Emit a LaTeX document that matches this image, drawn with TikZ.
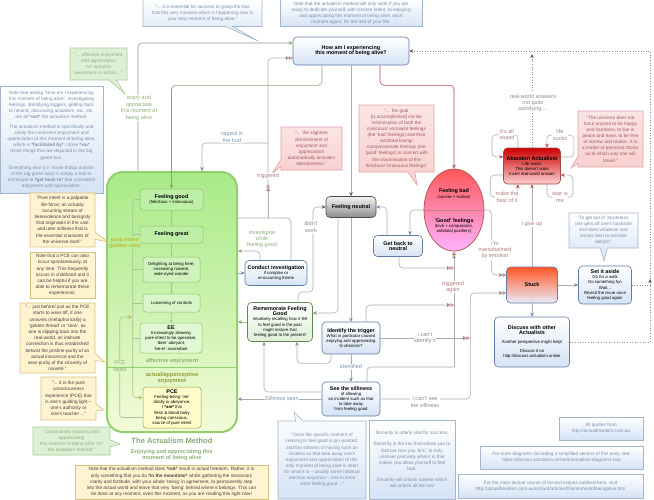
\documentclass[tikz,border=0pt]{standalone}
\usepackage{fontspec}
\setmainfont{Liberation Sans}
\usetikzlibrary{arrows.meta, shapes.geometric, shapes.callouts, calc}

\definecolor{notebd}{HTML}{A2B6CE}
\definecolor{notebl}{HTML}{D5E3F5}
\definecolor{notetx}{HTML}{7C8EA8}
\definecolor{nodebd}{HTML}{5E7BA3}
\definecolor{redbd}{HTML}{E3A2A2}
\definecolor{redfl}{HTML}{F8CFCF}
\definecolor{redtx}{HTML}{A35B5B}
\definecolor{darkred}{HTML}{B0504C}
\definecolor{yelbd}{HTML}{D8C17C}
\definecolor{yelfl}{HTML}{FFF3D0}
\definecolor{grnbd}{HTML}{A6CC92}
\definecolor{grnfl}{HTML}{DDF0D6}
\definecolor{grntx}{HTML}{8DB078}
\definecolor{boxgreen}{HTML}{92D06D}
\definecolor{boxtop}{HTML}{A9EA88}
\definecolor{boxbot}{HTML}{F4FBDA}
\definecolor{innerbd}{HTML}{88C46C}
\definecolor{linegray}{HTML}{ADADAD}
\definecolor{arrblue}{HTML}{6A8BBC}
\definecolor{arrgreen}{HTML}{7FA667}
\definecolor{clew}{HTML}{B7C043}
\definecolor{clewline}{HTML}{A9C29A}
\definecolor{lblgray}{HTML}{8C8C8C}
\definecolor{lblred}{HTML}{B07C7C}
\definecolor{lblblue}{HTML}{7F95B2}

\newcommand{\ttl}[1]{{\fontsize{5.4}{6.4}\selectfont\bfseries #1}}

\tikzset{
	flownode/.style={
			draw=nodebd,
			line width=0.6pt,
			rounded corners=4pt,
			top color=white,
			bottom color=notebl,
			align=center,
			inner sep=1pt,
			font=\fontsize{4.3}{5.1}\selectfont
		},
	innernode/.style={
			draw=innerbd,
			line width=0.5pt,
			rounded corners=3pt,
			align=center,
			inner sep=1pt,
			font=\fontsize{4.3}{5.1}\selectfont
		},
	bigbox/.style={
			draw=boxgreen,
			line width=2pt,
			rounded corners=16pt,
			top color=boxtop,
			bottom color=boxbot,
			middle color=boxtop!55!boxbot,
			minimum width=130,
			minimum height=260
		},
	notebox/.style={
			draw=notebd,
			line width=0.6pt,
			top color=white,
			bottom color=notebl,
			text=notetx,
			align=center,
			inner sep=1.5pt,
			font=\fontsize{4.7}{6.1}\selectfont
		},
	bluequote/.style={notebox, rectangle callout},
	redquote/.style={
			rectangle callout,
			draw=redbd,
			line width=0.6pt,
			top color=redfl!55,
			bottom color=redfl,
			text=redtx,
			align=center,
			inner sep=1.5pt,
			font=\fontsize{4.7}{6.1}\selectfont
		},
	yelnote/.style={
			draw=yelbd,
			line width=0.6pt,
			fill=yelfl,
			text=black!75,
			align=center,
			inner sep=1.5pt,
			font=\fontsize{4.7}{6.2}\selectfont
		},
	yelquote/.style={yelnote, rectangle callout},
	grnquote/.style={
			rectangle callout,
			draw=grnbd,
			line width=0.6pt,
			fill=grnfl,
			text=grntx,
			align=center,
			inner sep=1.5pt,
			font=\fontsize{4.7}{6.1}\selectfont
		},
	lbl/.style={
			font=\fontsize{5.5}{6.4}\selectfont,
			align=center,
			fill=white,
			inner sep=0.6pt
		},
	conn/.style={draw=linegray, line width=0.6pt, rounded corners=4pt},
	dotconn/.style={draw=black!45, line width=0.6pt, dotted},
	tipblue/.style={-{Stealth[length=4pt, width=3.6pt, color=arrblue]}},
	tipgreen/.style={-{Stealth[length=4pt, width=3.6pt, color=arrgreen]}},
	tipred/.style={-{Stealth[length=4pt, width=3.6pt, color=darkred]}},
	tipdark/.style={-{Stealth[length=4pt, width=3.6pt, color=black!65]}},
	tipclew/.style={-{Stealth[length=4pt, width=3.8pt, color=clew]}},
	tipopen/.style={-{Triangle[open, length=3.4pt, width=3.6pt, color=lblred]Triangle[open, length=3.4pt, width=3.6pt, color=lblred]}},
	pairarrow/.style={draw=clewline, line width=0.5pt, {Stealth[length=2.5pt, width=2.5pt]}-{Stealth[length=2.5pt, width=2.5pt]}}
}

\begin{document}
\begin{tikzpicture}[x=1pt, y=-1pt]
\useasboundingbox (0,0) rectangle (654,499);

% the big green box and what is in it
\node[bigbox] (g0) at (172,302) {};
\node[innernode, fill=boxtop!75!white, minimum width=63, minimum height=21] (n13) at (171.5,199.5) {\ttl{Feeling good}\\(felicitous + innocuous)};
\node[innernode, fill=boxtop!75!white, minimum width=63, minimum height=17] (n14) at (171.5,234.5) {\ttl{Feeling great}};
\node[innernode, fill=boxtop!55!white, minimum width=57, minimum height=25] (n15) at (171.5,269.5) {Delighting at being here,\\increasing naivete,\\wide eyed wonder};
\node[innernode, fill=boxtop!45!white, minimum width=57, minimum height=18] (n16) at (171.5,303) {Loosening of controls};
\node[innernode, fill=boxtop!35!white, minimum width=62, minimum height=30] (n17) at (171,338) {\ttl{EE}\\Increasingly allowing\\pure intent to be operative,\\'doer' abeyant,\\'be-er' ascendant};
\node[innernode, draw=clew!85!black, fill=yellow!20!white, minimum width=58, minimum height=41] (n18) at (172,407.5) {\ttl{PCE}\\Feeling-being 'me'\\totally in abeyance,\\I \textbf{*am*} this\\flesh \& blood body\\being conscious,\\source of pure intent};

\draw[pairarrow] (n13) -- (n14);
\draw[pairarrow] (n14) -- (n15);
\draw[pairarrow] (n15) -- (n16);
\draw[pairarrow] (n16) -- (n17);

% golden clew
\coordinate (gc) at (133,200);
\coordinate (j13) at (132,317);
\coordinate (j14) at (172,367);
\draw[clewline, line width=0.6pt, rounded corners=3pt, tipclew] (n13.west) -- ++(-7,0) |- ([yshift=10pt]n18.west);
\draw[clewline, line width=0.6pt] (n14.west) -- (gc|-n14.west);
\draw[clewline, line width=0.6pt] (n15.west) -- (gc|-n15.west);
\draw[clewline, line width=0.6pt] (n16.west) -- (gc|-n16.west);
\draw[clewline, line width=0.6pt] (n17.west) -- (gc|-n17.west);
\draw[clewline, line width=0.6pt, rounded corners=3pt, tipclew] ([yshift=-10pt]n18.west) -- ++(-23,0) |- (j13);
\node[font=\fontsize{5.5}{6.4}\selectfont\bfseries, text=clew, fill=boxtop!78!boxbot, inner sep=0.5pt, align=center] (l1) at (125,243) {pure intent\\golden clew};
\node[font=\fontsize{5.5}{6.4}\selectfont, text=grntx, fill=boxtop!30!boxbot, inner sep=0.5pt, align=center] (l2) at (120,366) {PCE\\fades};
\draw[boxgreen, line width=0.8pt] (g0.west|-j14) -- (g0.east|-j14);
\node[font=\fontsize{5.6}{6.4}\selectfont\bfseries, text=grntx] (l3) at (172,361) {affective enjoyment};
\node[font=\fontsize{5.6}{6.6}\selectfont\bfseries, text=clew!80!black, align=center] (l4) at (172,378) {actual/apperceptive\\enjoyment};
\node[font=\fontsize{7.6}{8.6}\selectfont\bfseries, text=grntx!85!gray] (l5) at (172,441) {The Actualism Method};
\node[font=\fontsize{5.6}{6.6}\selectfont\bfseries, text=grntx, align=center] (l6) at (172,455) {Enjoying and appreciating this\\moment of being alive};

% flow nodes
\node[flownode, minimum width=116, minimum height=28] (n1) at (351,51) {\ttl{How am I experiencing}\\\ttl{this moment of being alive?}};
\node[flownode, draw=black!70, top color=black!5, bottom color=black!45, minimum width=50, minimum height=21] (n2) at (351,207) {\ttl{Feeling neutral}};
\node[flownode, minimum width=49, minimum height=21] (n3) at (398,246) {\ttl{Get back to}\\\ttl{neutral}};
\node[ellipse, draw=darkred, line width=0.7pt, top color=red!65!white, bottom color=magenta!30!white, minimum width=60, minimum height=82, inner sep=0pt,
  path picture={\draw[darkred!70, line width=0.5pt] (path picture bounding box.west) -- (path picture bounding box.east);}] (n4) at (454,210) {};
\node[font=\fontsize{4.3}{5.1}\selectfont, align=center] (n4a) at (454,194) {\ttl{Feeling bad}\\(sorrow + malice)};
\node[font=\fontsize{4.3}{5.1}\selectfont, align=center] (n4b) at (454,226) {\ttl{'Good' feelings}\\(love + compassion,\\antidotal pacifiers)};
\node[flownode, draw=darkred!90!black, top color=red!80!black, bottom color=red!18!white, minimum width=57, minimum height=36] (n5) at (532,166) {\ttl{Abandon Actualism}\\Life sucks\\This doesn't work\\Insert real-world answer};
\node[flownode, draw=nodebd!80!gray, top color=red!55!orange!85!white, bottom color=black!30!blue!8!white, minimum width=51, minimum height=36] (n6) at (532,285) {\ttl{Stuck}};
\node[flownode, minimum width=53, minimum height=38] (n7) at (605,285) {\ttl{Set it aside}\\Go for a walk\\Do something fun\\Wait...\\Revisit the issue once\\feeling good again};
\node[flownode, minimum width=75, minimum height=50] (n8) at (532,342) {\ttl{Discuss with other}\\\ttl{Actualists}\\[4pt]Another perspective might help!\\[4pt]Discuss it on\\http://discuss.actualism.online};
\node[flownode, minimum width=58, minimum height=32] (n9) at (351,338) {\ttl{Identify the trigger}\\What in particular caused\\enjoying and appreciating\\to diminish?};
\node[flownode, minimum width=58, minimum height=34] (n10) at (351,399) {\ttl{See the silliness}\\of allowing\\an incident such as that\\to take away\\from feeling good};
\node[flownode, minimum width=62, minimum height=25] (n11) at (276,273) {\ttl{Conduct investigation}\\if complex or\\re-occurring theme};
\node[flownode, draw=arrgreen!80!black, bottom color=grnfl, minimum width=65, minimum height=39] (n12) at (280,322) {\ttl{Rememorate Feeling}\\\ttl{Good}\\Intuitively recalling how it felt\\to feel good in the past\\might restore that\\feeling good to the present!};

% quotes and notes
\node[bluequote, minimum width=119, minimum height=27, callout absolute pointer={(258,41)}] (c1) at (202.5,13) {"... it is essential for success to grasp the fact\\that this very moment which is happening now is\\your only moment of being alive."};
\node[notebox, minimum width=142, minimum height=27] (t1) at (351,13) {Note that the actualism method will only work if you are\\ready to dedicate yourself, with sincere intent, to enjoying\\and appreciating this moment of being alive, each\\moment again, for the rest of your life.};
\node[grnquote, minimum width=57, minimum height=32, callout absolute pointer={(125,94)}] (c2) at (98.5,64) {"... affective enjoyment\\and appreciation\\*is* actualist\\awareness in action ..."};
\node[notebox, minimum width=103, minimum height=107] (t2) at (51.5,139.5) {Note that asking "How am I experiencing\\this moment of being alive", investigating\\feelings, identifying triggers, getting back\\to neutral, discussing actualism, etc. etc.\\are all \textbf{*not*} the actualism method.\\[4pt]The actualism method is specifically and\\solely the consistent enjoyment and\\appreciation of this moment of being alive,\\which is \textbf{*facilitated by*} / done \textbf{*via*}\\those things that are depicted in the big\\green box.\\[4pt]Everything else (i.e. those things outside\\of the big green box) is simply a tool or\\technique to \textbf{*get back to*} that consistent\\enjoyment and appreciation.};
\node[yelquote, minimum width=65, minimum height=54, callout absolute pointer={(108,242)}] (c3) at (62.5,220) {"Pure intent is a palpable\\life-force; an actually\\occurring stream of\\benevolence and benignity\\that originates in the vast\\and utter stillness that is\\the essential character of\\the universe itself."};
\node[yelnote, minimum width=65, minimum height=46] (t3) at (62.5,275) {Note that a PCE can also\\occur spontaneously, at\\any time. This frequently\\occurs in childhood and it\\can be helpful if you are\\able to rememorate these\\experiences.};
\node[yelquote, minimum width=75, minimum height=70, callout absolute pointer={(105,362)}] (c4) at (57.5,338) {"... just before/ just as the PCE\\starts to wear off, if one\\unravels (metaphorically) a\\'golden thread' or 'clew', as\\one is slipping back into the\\real-world, an intimate\\connection is thus established\\betwixt the pristine-purity of an\\actual innocence and the\\near-purity of the sincerity of\\naiveté."};
\node[yelquote, minimum width=55, minimum height=43, callout absolute pointer={(104,410)}] (c5) at (68.5,398.5) {"... it is the pure\\consciousness\\experience (PCE) that\\is one's guiding light --\\one's authority or\\one's teacher ..."};
\node[grnquote, minimum width=77, minimum height=28, callout absolute pointer={(120,444)}] (c6) at (71.5,441) {"Consistently enjoying and\\appreciating\\this moment of being alive *is*\\the actualism method."};
\node[yelnote, minimum width=193, minimum height=34] (t4) at (171.5,482) {Note that the actualism method does \textbf{*not*} result in actual freedom. Rather, it is\\only something that you do \textbf{*in the meantime*} whilst gathering the necessary\\clarity and fortitude, with your whole 'being' in agreement, to permanently step\\into the actual world and leave that very 'being' behind where it belongs. This can\\be done at any moment, even this moment, as you are reading this right now!};
\node[redquote, minimum width=61, minimum height=43, callout absolute pointer={(272,174)}] (c7) at (311.5,148.5) {"... the slightest\\diminishment of\\enjoyment and\\appreciation\\automatically activates\\attentiveness."};
\node[redquote, minimum width=75, minimum height=67, callout absolute pointer={(417,185)}] (c8) at (396.5,138.5) {"... the goal\\{}[is accomplished] via the\\minimisation of both the\\malicious/ sorrowful feelings\\(the 'bad' feelings) and their\\antidotal loving/\\compassionate feelings (the\\'good' feelings) in concert with\\the maximisation of the\\felicitous/ innocuous feelings"};
\node[redquote, minimum width=65, minimum height=56, callout absolute pointer={(571,168)}] (c9) at (610.5,139) {"The universe does not\\force anyone to be happy\\and harmless, to live in\\peace and ease, to be free\\of sorrow and malice. It is\\a matter of personal choice\\as to which way one will\\travel."};
\node[bluequote, minimum width=69, minimum height=35, callout absolute pointer={(604,261)}] (c10) at (603.5,230.5) {"To get out of 'stuckness'\\one gets off one's backside\\and does whatever one\\knows best to activate\\delight."};
\node[bluequote, minimum width=88, minimum height=78, callout absolute pointer={(294,412)}] (c11) at (322,460) {"Once the specific moment of\\ceasing to feel good is pin-pointed,\\and the silliness of having such an\\incident as that take away one's\\enjoyment and appreciation of this\\only moment of being alive is seen\\for what it is -- usually some habitual\\reactive response -- one is once\\more feeling good ..."};
\node[notebox, minimum width=86, minimum height=79] (t5) at (412,459.5) {Sincerity is utterly vital for success.\\[5pt]Sincerity is the key that allows you to\\find out how you 'tick', to truly\\uncover precisely what it is that\\makes you allow yourself to feel\\bad.\\[5pt]Sincerity will unlock naivete which\\will unlock all the rest};
\node[notebox, minimum width=84, minimum height=23] (t6) at (601,428.5) {All quotes from\\http://actualfreedom.com.au};
\node[notebox, minimum width=163, minimum height=23] (t7) at (561.5,457.5) {For more diagrams (including a simplified version of this one), see:\\https://discuss.actualism.online/t/actualism-diagrams-hub};
\node[notebox, minimum width=185, minimum height=24] (t8) at (550.5,486) {For the main textual source of the techniques outlined here, visit\\http://actualfreedom.com.au/richard/articles/thismomentofbeingalive.htm};

% free ends
\coordinate (j1) at (268,218);
\coordinate (j2) at (268,184);
\coordinate (j3) at (268,143);
\coordinate (j4) at (250,251);
\coordinate (j5) at (313,292);
\coordinate (j8) at (454,367);
\coordinate (j9) at (532,54);
\coordinate (j11) at (650,279);
\coordinate (ta) at (454,268);
\coordinate (tb) at (454,305);
\coordinate (tc) at (470,338);

% connectors
\draw[conn, draw=grntx!70!gray, tipgreen] ($(g0.north west)+(32,0)$) |- ([yshift=8pt]n1.west);
\draw[conn, draw=grntx!70!gray, tipgreen] ([xshift=-29pt]n1.south) -- ++(0,20) -| (n13.north);
\draw[conn, tipdark] (n1.south) -- (n2.north);
\draw[conn, draw=darkred, tipred] ([xshift=29pt]n1.south) -- ++(0,20) -| (n4.north);

\draw[conn] (g0.east|-j1) -- (j1) -| ([xshift=15pt]n11.north);
\draw[conn, tipopen] (j1) -- (j2);
\draw[conn, tipopen] (j2) |- ([yshift=-7pt]n1.west);
\draw[conn, tipblue] (j3) -| ($(g0.north west)+(96,0)$);

\draw[conn, tipblue] (g0.east|-n11.west) -- (n11.west);
\draw[conn, tipgreen] ([xshift=-16pt]n11.north) |- (g0.east|-j4);
\draw[conn, tipgreen] (n12.west) -- (g0.east|-n12.west);
\draw[conn, tipdark] ([xshift=18pt]n12.north) |- (j5) |- (n2.west);
\draw[conn, tipgreen] ([xshift=-13pt]n2.south) |- ([yshift=9pt]n12.east);
\draw[conn, tipblue] (n2.south) -- (n9.north);
\draw[conn, tipblue] ([xshift=-11pt]n3.north) |- (n2.east);
\draw[conn, tipblue] (n4.west) -| ([xshift=12pt]n3.north);
\draw[conn, tipopen] (n4.east) -- ++(7,0) |- ([yshift=10pt]n6.west);

\draw[conn, tipopen] ([xshift=1pt]n3.south) |- (ta);
\draw[conn] ([xshift=16pt]n10.north) |- (j8);
\draw[conn, tipopen] (j8) -- (n4.south);
\draw[conn, tipopen] ([xshift=15pt]n9.north) |- (tb);
\draw[conn, tipopen] (n9.east) -- (tc);
\draw[conn, tipopen] (n10.east) -- ++(90,0) |- ([yshift=-8pt]n6.west);
\draw[conn, tipblue] (n9.south) -- (n10.north);
\draw[conn, tipblue] (n10.west) -- (g0.east|-n10.west);
\draw[conn, tipgreen] ([yshift=7pt]n10.west) -| ([xshift=-16pt]n12.south);
\draw[conn, tipgreen] ([xshift=-20pt]n9.south) -- ++(0,9) -| ([xshift=17pt]n12.south);

\draw[conn, tipred] (n6.north) -- (n5.south);
\draw[conn, tipblue] (n6.east) -- (n7.west);
\draw[conn, tipblue] (n6.south) -- (n8.north);

\draw[conn, tipred] ([xshift=-14pt]n5.north) -- ++(0,-13) -- ++(-26,0) -- ++(0,22) -- ([yshift=9pt]n5.west);
\draw[conn, tipred] ([yshift=9pt]n5.east) -- ++(13,0) -- ++(0,-22) -- ++(-27,0) -- ([xshift=15pt]n5.north);
\draw[conn, tipred] ([yshift=-9pt]n5.west) -- ++(-13,0) -- ++(0,22) -- ++(27,0) -- ([xshift=-14pt]n5.south);
\draw[conn, tipred] ([xshift=15pt]n5.south) -- ++(0,13) -- ++(26,0) -- ++(0,-22) -- ([yshift=-9pt]n5.east);

\draw[dotconn, tipdark] (n5.north) -- (j9);
\draw[dotconn, tipdark] (n8.east) -- ++(80,0) |- (n1.east);
\draw[dotconn, tipdark] (n7.east) -| (j11);

% labels
\node[lbl, text=grntx] (e1) at (139,108) {enjoy and\\appreciate\\this moment of\\being alive};
\node[lbl, text=lblblue] (e2) at (232,137) {nipped in\\the bud};
\node[lbl, text=lblred] (e3) at (268,176) {triggered};
\node[lbl, text=lblgray] (e4) at (311,227) {didn't\\work};
\node[lbl, text=grntx] (e5) at (262,239) {investigate\\while\\feeling good};
\node[lbl, text=lblred] (e6) at (495,250) {i'm\\overwhelmed\\by emotion};
\node[lbl, text=lblred] (e7) at (453,287) {triggered\\again};
\node[lbl, text=lblred] (e8) at (532,224) {i give up};
\node[lbl, text=lblgray] (e9) at (533,103) {real-world answers\\not quite\\satisfying ...};
\node[lbl, text=lblred] (e10) at (507,135) {it's all\\stupid};
\node[lbl, text=lblred] (e11) at (560,135) {life\\sucks};
\node[lbl, text=lblred] (e12) at (507,197) {make the\\best of it};
\node[lbl, text=lblred] (e13) at (560,197) {woe is\\me};
\node[lbl, text=lblgray] (e14) at (425,338) {i can't\\identify it};
\node[lbl, text=lblgray] (e15) at (425,402) {i can't see\\the silliness};
\node[lbl, text=lblblue] (e16) at (351,367) {identified};
\node[lbl, text=lblblue] (e17) at (282,399) {Silliness seen};
\end{tikzpicture}
\end{document}
